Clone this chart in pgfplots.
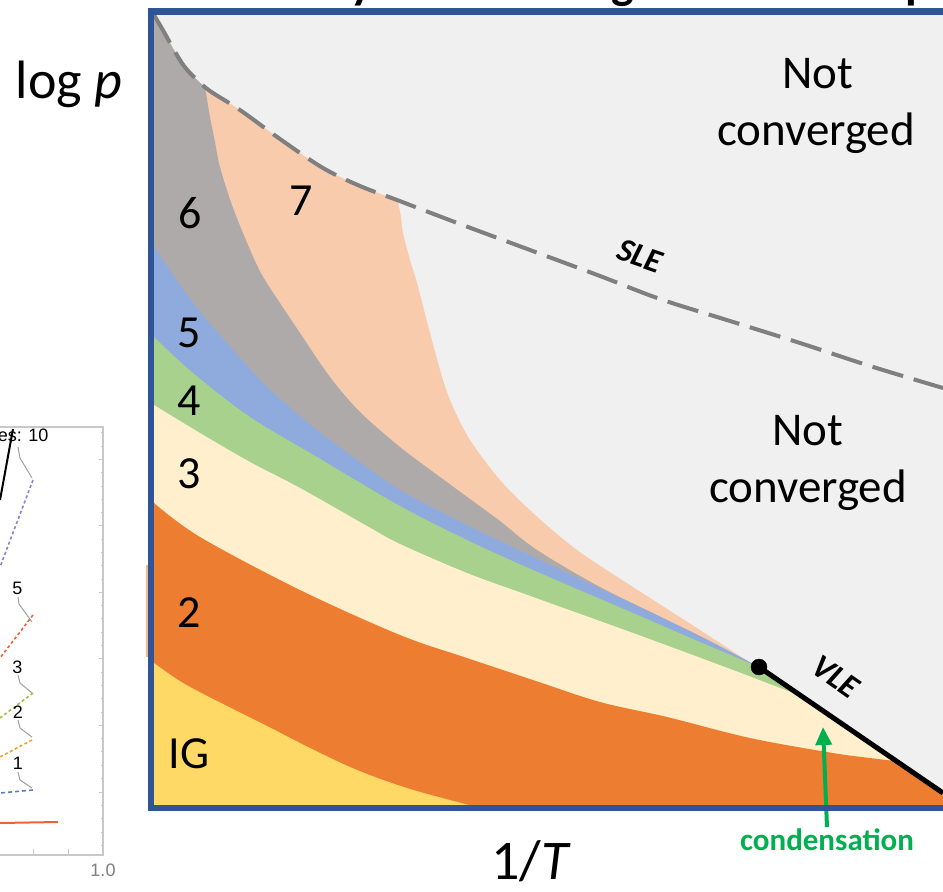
\documentclass[border=0pt]{standalone}
\usepackage{pgfplots}
\pgfplotsset{compat=1.18}
\usepackage{fontspec}
\setmainfont{Carlito}
\newfontfamily\insetfont{Liberation Sans}
\usetikzlibrary{arrows.meta}

\definecolor{bgGray}{HTML}{F0F0F0}
\definecolor{cSeven}{HTML}{F8CBAD}
\definecolor{cSix}{HTML}{AEAAAA}
\definecolor{cFive}{HTML}{8FAADC}
\definecolor{cFour}{HTML}{A9D18E}
\definecolor{cThree}{HTML}{FFEFCC}
\definecolor{cTwo}{HTML}{ED7D31}
\definecolor{cIG}{HTML}{FFD966}
\definecolor{frameBlue}{HTML}{2F5597}
\definecolor{dashGray}{HTML}{7F7F7F}
\definecolor{condGreen}{HTML}{00B050}
\definecolor{insetGray}{HTML}{C8C8C8}
\definecolor{leadGray}{HTML}{A0A0A0}
\definecolor{lnPurple}{HTML}{8C7FD0}
\definecolor{lnRed}{HTML}{F0603A}
\definecolor{lnGreen}{HTML}{9BC33A}
\definecolor{lnOrange}{HTML}{F0A02A}
\definecolor{lnBlue}{HTML}{5A7DC8}
\definecolor{spill}{HTML}{F6B98F}

\begin{document}
\begin{tikzpicture}
\path[use as bounding box] (0,0) rectangle (943pt,892pt);
\begin{axis}[
  at={(0,0)}, anchor=south west,
  scale only axis, width=943pt, height=892pt,
  xmin=0, xmax=943, ymin=0, ymax=892,
  y dir=reverse, hide axis, clip=true,
  region/.style={draw=none, smooth, tension=0.55},
]
% background: not converged
\addplot[fill=bgGray, draw=none] coordinates {(151,11.5)(943,11.5)(943,808)(151,808)} -- cycle;

% region 7 (below the SLE line, left of its right boundary)
\addplot[region, fill=cSeven] coordinates {
 (154,15)(164,32)(174,50)(184,66)(196,79)(210,91)(240,110)(280,139)(323,168)(360,186)(392,198)(397,200)
 (399,207)(401,217)(403,233)(410,260)(417,283)(430,333)(443,380)(453,407)(470,440)(500,480)(533,513)(577,550)
 (633,587)(700,630)(740,656)(759,667)}
 -- (axis cs:943,793) -- (axis cs:943,808) -- (axis cs:151,808) -- (axis cs:151,11.5) -- cycle;

% region 6
\addplot[region, fill=cSix] coordinates {
 (154,15)(164,32)(174,50)(184,66)(196,79)(204,86)(205,88)(206,93)
 (210,117)(215,142)(220,167)(232,205)(248,245)(262,275)(280,303)(300,333)(330,377)(360,412)(400,447)
 (440,477)(470,499)(500,521)(537,550)(600,587)(667,620)(720,648)(759,667)}
 -- (axis cs:943,793) -- (axis cs:943,808) -- (axis cs:151,808) -- (axis cs:151,11.5) -- cycle;

% region 5
\addplot[region, fill=cFive] coordinates {
 (154,247)(193,303)(227,343)(267,387)(317,430)(360,462)(400,490)(467,525)(540,560)(633,604)
 (700,636)(759,667)}
 -- (axis cs:943,793) -- (axis cs:943,808) -- (axis cs:151,808) -- (axis cs:151,244) -- cycle;

% region 4
\addplot[region, fill=cFour] coordinates {
 (154,337)(193,373)(250,417)(317,457)(400,506)(467,540)(533,570)(633,613)(700,642)(759,667)}
 -- (axis cs:943,793) -- (axis cs:943,808) -- (axis cs:151,808) -- (axis cs:151,335) -- cycle;

% region 3
\addplot[region, fill=cThree] coordinates {
 (154,405)(200,433)(250,462)(300,488)(367,526)(400,544)(467,573)(533,597)(633,633)(733,670)
 (780,688)(800,695)}
 -- (axis cs:943,793) -- (axis cs:943,808) -- (axis cs:151,808) -- (axis cs:151,403) -- cycle;

% region 2
\addplot[region, fill=cTwo] coordinates {
 (154,503)(200,537)(300,590)(400,635)(467,658)(533,680)(600,702)(667,717)(750,738)(833,753)
 (870,758)(895,761)}
 -- (axis cs:943,793) -- (axis cs:943,808) -- (axis cs:151,808) -- (axis cs:151,501) -- cycle;

% ideal gas region
\addplot[region, fill=cIG] coordinates {
 (154,663)(183,683)(225,705)(267,726)(310,748)(357,770)(410,789)(473,806)}
 -- (axis cs:473,808) -- (axis cs:151,808) -- (axis cs:151,661) -- cycle;

% thin spill of region 2 beside the frame
\addplot[fill=spill, draw=none] coordinates {(145.5,565)(148.5,565)(148.5,657)(145.5,657)} -- cycle;

% solid-liquid equilibrium line
\addplot[draw=dashGray, line width=4, dash pattern=on 32pt off 11pt, smooth, tension=0.55] coordinates {
 (154,15)(164,32)(174,50)(184,66)(196,79)(210,91)(240,110)(280,139)(323,168)(360,186)(397,200)
 (460,224)(530,250)(600,276)(660,299)(730,321)(800,343)(870,366)(943,388)};

% vapour-liquid equilibrium line and critical point
\addplot[draw=black, line width=5] coordinates {(759,667)(943,793)};
\addplot[only marks, mark=*, mark size=8, color=black] coordinates {(759,667)};

% condensation arrow
\addplot[draw=condGreen, line width=4, -{Triangle[length=18pt, width=16pt]}] coordinates {(827,827)(823,727)};

% frame
\addplot[draw=frameBlue, line width=6.5] coordinates {(960,11.5)(151,11.5)(151,808)(960,808)};

% region labels
\node[font=\fontsize{46}{55}\selectfont, anchor=base] at (190,228) {6};
\node[font=\fontsize{46}{55}\selectfont, anchor=base] at (301,215) {7};
\node[font=\fontsize{46}{55}\selectfont, anchor=base] at (189,347) {5};
\node[font=\fontsize{46}{55}\selectfont, anchor=base] at (189,415) {4};
\node[font=\fontsize{46}{55}\selectfont, anchor=base] at (189,488) {3};
\node[font=\fontsize{46}{55}\selectfont, anchor=base] at (189,627) {2};
\node[font=\fontsize{46}{55}\selectfont, anchor=base] at (189,768) {IG};

\node[font=\fontsize{47}{57}\selectfont, anchor=base] at (818,88) {Not};
\node[font=\fontsize{47}{57}\selectfont, anchor=base] at (816,145) {converged};
\node[font=\fontsize{47}{57}\selectfont, anchor=base] at (808,445) {Not};
\node[font=\fontsize{47}{57}\selectfont, anchor=base] at (808,502) {converged};

\node[font=\fontsize{33}{40}\selectfont\bfseries\itshape, rotate=-19] at (640,256) {SLE};
\node[font=\fontsize{33}{40}\selectfont\bfseries\itshape, rotate=-35] at (836,677) {VLE};
\node[font=\fontsize{31}{37}\selectfont\bfseries, text=condGreen, anchor=base] at (827,850) {condensation};

% axis titles
\node[font=\fontsize{54}{64}\selectfont, anchor=base] at (69,98) {log \textit{p}};
\node[font=\fontsize{56}{66}\selectfont, anchor=base] at (531,879) {1/\textit{T}};

% title, mostly above the page
\node[font=\fontsize{48}{56}\selectfont\bfseries, anchor=base] at (362,-2) {y};
\node[font=\fontsize{48}{56}\selectfont\bfseries, anchor=base] at (623,-2) {g};
\node[font=\fontsize{48}{56}\selectfont\bfseries, anchor=base] at (918,-2) {p};

% small inset plot on the left
\addplot[draw=insetGray, line width=1.2] coordinates {(0,427)(103,427)(103,855)(0,855)};
\pgfplotsinvokeforeach{459,525,592,658,725,792}{
  \addplot[draw=insetGray, line width=1] coordinates {(103,#1)(98.5,#1)};
}
\pgfplotsinvokeforeach{432,446,472,486,499,512,539,552,565,579,605,618,632,645,672,685,698,712,738,751,765,778,805,818,832,845}{
  \addplot[draw=insetGray, line width=0.8] coordinates {(103,#1)(100.5,#1)};
}
\addplot[draw=insetGray, line width=1] coordinates {(33,855)(33,849)};
\addplot[draw=insetGray, line width=1] coordinates {(68,855)(68,849)};

\addplot[draw=black, line width=2] coordinates {(0,500)(13,429)};
\addplot[draw=lnPurple, line width=1.6, dash pattern=on 3pt off 2.5pt] coordinates {(33,480)(0,567)};
\addplot[draw=lnRed, line width=1.6, dash pattern=on 3pt off 2.5pt] coordinates {(33,615)(0,658)};
\addplot[draw=lnGreen, line width=1.6, dash pattern=on 3pt off 2.5pt] coordinates {(33,693)(0,718)};
\addplot[draw=lnOrange, line width=1.6, dash pattern=on 3pt off 2.5pt] coordinates {(32,740)(0,757)};
\addplot[draw=lnBlue, line width=1.6, dash pattern=on 4pt off 3pt] coordinates {(33,790)(0,793)};
\addplot[draw=lnRed, line width=2] coordinates {(0,823)(58,822)};

\addplot[draw=leadGray, line width=1] coordinates {(18,447)(20,458)(32,478)};
\addplot[draw=leadGray, line width=1] coordinates {(18,597)(19,604)(32,622)};
\addplot[draw=leadGray, line width=1] coordinates {(18,675)(20,683)(32,693)};
\addplot[draw=leadGray, line width=1] coordinates {(18,720)(20,728)(32,737)};
\addplot[draw=leadGray, line width=1] coordinates {(18,772)(20,780)(32,788)};

\node[font=\insetfont\fontsize{18}{21}\selectfont, anchor=base east] at (52,441) {es: 10};
\node[font=\insetfont\fontsize{18}{21}\selectfont] at (17.5,588) {5};
\node[font=\insetfont\fontsize{18}{21}\selectfont] at (17.5,667) {3};
\node[font=\insetfont\fontsize{18}{21}\selectfont] at (18,712) {2};
\node[font=\insetfont\fontsize{18}{21}\selectfont] at (18,763) {1};
\node[font=\insetfont\fontsize{18}{21}\selectfont, text=dashGray] at (103,870) {1.0};
\end{axis}
\end{tikzpicture}
\end{document}
